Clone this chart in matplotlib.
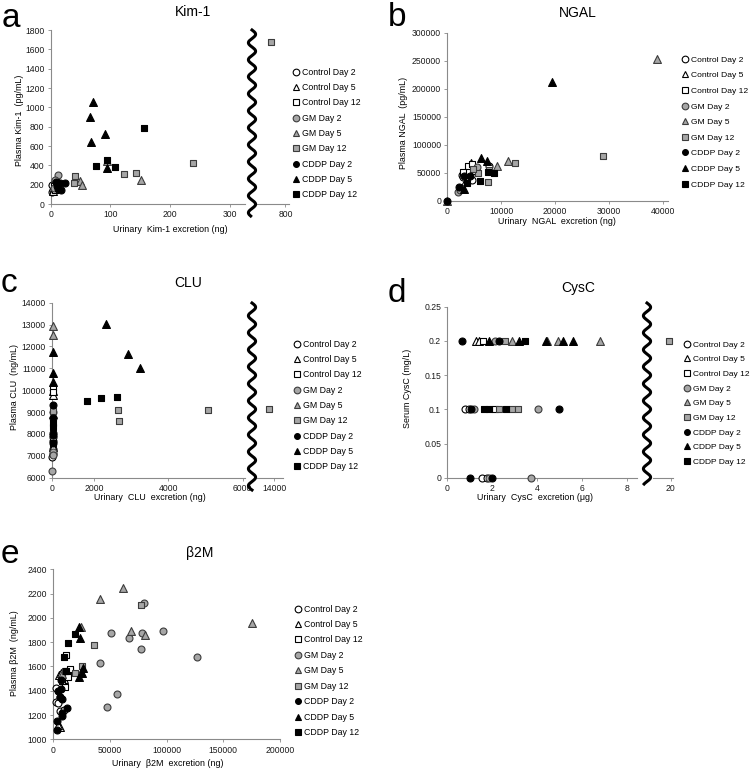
import numpy as np
import matplotlib
matplotlib.use("Agg")
import matplotlib.pyplot as plt
from matplotlib.lines import Line2D

plt.rcParams["font.family"] = ["Liberation Sans", "DejaVu Sans"]

# ---- series (same order in every panel) ----
series_names = ["Control Day 2", "Control Day 5", "Control Day 12",
                "GM Day 2", "GM Day 5", "GM Day 12",
                "CDDP Day 2", "CDDP Day 5", "CDDP Day 12"]

# ---- a: Kim-1 ----
kim_x = [[2, 4, 6, 3], [5, 8, 4], [6, 9, 7],
         [12, 8, 10, 6], [49, 52, 151, 95], [41, 39, 123, 142, 238, 760],
         [15, 24, 18, 11, 9, 12], [71, 65, 67, 90, 94], [156, 75, 94, 108]]
kim_y = [[120, 150, 175, 200], [160, 215, 135], [185, 240, 150],
         [300, 245, 205, 170], [238, 200, 248, 440], [290, 214, 307, 317, 421, 1680],
         [214, 214, 145, 190, 230, 160], [1058, 897, 638, 724, 369], [789, 396, 455, 386]]

# ---- b: NGAL ----
ngal_x = [[2800, 7800, 4500, 3000], [4400, 3200, 5200], [3800, 4500, 3000],
          [1930, 2600, 5500, 2400], [0, 39000, 11200, 9300], [12500, 29000, 7800, 7600, 5750, 4800],
          [0, 2200, 3150, 4200], [19500, 6250, 7300, 3100], [8700, 7600, 6060, 3600]]
ngal_y = [[47000, 62000, 38000, 42000], [68000, 34000, 55000], [62500, 66000, 52000],
          [16600, 24000, 60000, 20000], [0, 253000, 72000, 62500], [67000, 81000, 55000, 34500, 49500, 57000],
          [0, 25000, 44600, 44600], [212000, 76000, 72000, 21000], [49500, 51000, 36000, 31600]]

# ---- c: CLU ----
clu_x = [[20, 30, 40, 25, 35], [30, 25, 40], [35, 30, 25],
         [20, 30, 25, 40], [30, 35, 40], [2650, 2680, 5070, 13400, 40],
         [30, 40, 35, 25, 30], [2320, 2920, 3240, 30, 35, 40], [1680, 2180, 2630, 40, 30]]
clu_y = [[6960, 7100, 7300, 7700, 7850], [9780, 9950, 7400], [10160, 9900, 7600],
         [6300, 7190, 7050, 9000], [12950, 12520, 8900], [9095, 8600, 9095, 9140, 9050],
         [9320, 8720, 8030, 7570, 7950], [13010, 11640, 11000, 11760, 10770, 10390], [9506, 9657, 9690, 8490, 8330]]

# ---- d: CysC ----
cys_x = [[0.79, 0.98, 1.56, 1.79], [1.28, 1.43], [1.61, 2.13],
         [2.13, 1.2, 4.06, 1.86, 3.74], [2.87, 4.45, 4.96, 6.82], [2.58, 19.6, 2.32, 2.87, 3.17],
         [0.64, 2.32, 1.06, 5.0, 1.01, 2.01], [1.88, 3.21, 4.41, 5.15, 5.6], [3.47, 1.64, 1.88, 2.62]]
cys_y = [[0.1, 0.1, 0, 0], [0.2, 0.2], [0.2, 0.1],
         [0.2, 0.1, 0.1, 0, 0], [0.2, 0.2, 0.2, 0.2], [0.2, 0.2, 0.1, 0.1, 0.1],
         [0.2, 0.2, 0.1, 0.1, 0, 0], [0.2, 0.2, 0.2, 0.2, 0.2], [0.2, 0.1, 0.1, 0.1]]

# ---- e: beta2M ----
b2m_x = [[2400, 2800, 4300, 5500, 6000, 9000], [5000, 7000, 9000, 6300, 4300],
         [11500, 14400, 13000, 10000, 15000, 8000],
         [79800, 50600, 66800, 78300, 77100, 41500, 56200, 47700, 97000, 126500],
         [41500, 61500, 24200, 68800, 80700, 175100, 8000], [77000, 36000, 19400, 25600, 10500],
         [6500, 7100, 4100, 5600, 11800, 7400, 7600, 3000, 3000, 8000],
         [22400, 23300, 22400, 26200, 25600], [18900, 13000, 9400, 11500]]
b2m_y = [[1420, 1310, 1300, 1350, 1230, 1240], [1530, 1550, 1500, 1104, 1115],
         [1694, 1571, 1516, 1428, 1580, 1480],
         [2125, 1873, 1832, 1873, 1741, 1626, 1373, 1268, 1890, 1680],
         [2155, 2243, 1927, 1894, 1859, 1960, 1540], [2110, 1777, 1549, 1606, 1560],
         [1490, 1415, 1395, 1345, 1255, 1214, 1192, 1150, 1077, 1330],
         [1927, 1832, 1516, 1585, 1543], [1867, 1790, 1675, 1565]]

# ---- ticks ----
kim_xticks = [0, 100, 200, 300]
kim_yticks = [0, 200, 400, 600, 800, 1000, 1200, 1400, 1600, 1800]
ngal_xticks = [0, 10000, 20000, 30000, 40000]
ngal_yticks = [0, 50000, 100000, 150000, 200000, 250000, 300000]
clu_xticks = [0, 2000, 4000, 6000]
clu_yticks = [6000, 7000, 8000, 9000, 10000, 11000, 12000, 13000, 14000]
cys_xticks = [0, 2, 4, 6, 8]
cys_yticks = [0, 0.05, 0.1, 0.15, 0.2, 0.25]
cys_ylabels = ["0", "0.05", "0.1", "0.15", "0.2", "0.25"]
b2m_xticks = [0, 50000, 100000, 150000, 200000]
b2m_yticks = [1000, 1200, 1400, 1600, 1800, 2000, 2200, 2400]

# ---- look ----
W, H = 751, 769
AX_GRAY = "#8a8a8a"
faces = ["white"] * 3 + ["#a6a6a6"] * 3 + ["black"] * 3
edges = ["black"] * 3 + ["#3c3c3c"] * 3 + ["black"] * 3
markers = ["o", "^", "s"] * 3
sizes = [25, 32, 25] * 3


def rect(l, t, r, b):
    return [l / W, 1 - b / H, (r - l) / W, (b - t) / H]


def fx(x):
    return x / W


def fy(y):
    return 1 - y / H


def style(ax, yaxis=True):
    for s in ["top", "right"]:
        ax.spines[s].set_visible(False)
    for s in ["left", "bottom"]:
        ax.spines[s].set_color(AX_GRAY)
        ax.spines[s].set_linewidth(0.8)
    ax.tick_params(labelsize=6.2, length=2.5, width=0.6, color=AX_GRAY,
                   pad=2, labelcolor="#1a1a1a")
    if not yaxis:
        ax.spines["left"].set_visible(False)
        ax.tick_params(axis="y", left=False, labelleft=False)


def scatter(ax, xs, ys):
    lo, hi = ax.get_xlim()
    for i, (x, y) in enumerate(zip(xs, ys)):
        x = np.asarray(x, float)
        y = np.asarray(y, float)
        keep = (x >= lo) & (x <= hi)
        ax.scatter(x[keep], y[keep], marker=markers[i], s=sizes[i],
                   facecolor=faces[i], edgecolor=edges[i], linewidths=0.8,
                   zorder=3, clip_on=False)


def wave(fig, x0, top, bot):
    ys = np.linspace(top, bot, 500)
    xs = x0 + 3.6 * np.sin(2 * np.pi * (ys - top) / 17.0)
    fig.add_artist(Line2D(fx(xs), fy(ys), color="black", lw=2.2,
                          transform=fig.transFigure))


def legend(fig, mx, y0, spacing, fs=6.3):
    handles = [Line2D([], [], ls="none", marker=markers[i],
                      markersize=4.8 if i < 6 else 4.2,
                      markerfacecolor=faces[i], markeredgecolor=edges[i],
                      markeredgewidth=0.8) for i in range(9)]
    fs_px = fs * 100 / 72
    ls = (spacing - fs_px * 0.98) / fs_px
    fig.legend(handles, series_names, loc="upper left",
               bbox_to_anchor=(fx(mx - 0.35 * fs_px - 1.5), fy(y0 - 0.5 * fs_px)),
               frameon=False, fontsize=fs, handlelength=0.7, handletextpad=0.4,
               borderpad=0, borderaxespad=0, labelspacing=ls)


def label(fig, x, y, s, **kw):
    fig.text(fx(x), fy(y), s, ha="center", va="center", **kw)


fig = plt.figure(figsize=(W / 100, H / 100), dpi=100)

# ---------- a ----------
axl = fig.add_axes(rect(50.7, 30, 245, 204))
axl.set_xlim(0, 325)
axl.set_ylim(0, 1800)
axl.set_xticks(kim_xticks)
axl.set_yticks(kim_yticks)
style(axl)
scatter(axl, kim_x, kim_y)
axr = fig.add_axes(rect(257, 30, 289, 204), sharey=axl)
axr.set_xlim(720, 810)
axr.set_xticks([800])
style(axr, yaxis=False)
scatter(axr, kim_x, kim_y)
wave(fig, 252, 30, 216)
legend(fig, 297, 72, 14.9)
label(fig, 193, 12, "Kim-1", fontsize=10)
label(fig, 20, 120, "Plasma Kim-1  (pg/mL)", fontsize=6.4, rotation=90)
label(fig, 170, 229, "Urinary  Kim-1 excretion (ng)", fontsize=6.4)
fig.text(fx(2), fy(27), "a", fontsize=24)

# ---------- b ----------
ax = fig.add_axes(rect(447.3, 33, 668, 201))
ax.set_xlim(0, 41000)
ax.set_ylim(0, 300000)
ax.set_xticks(ngal_xticks)
ax.set_yticks(ngal_yticks)
style(ax)
scatter(ax, ngal_x, ngal_y)
legend(fig, 686, 60, 16, fs=6.1)
label(fig, 578, 13, "NGAL", fontsize=10)
label(fig, 404, 123, "Plasma NGAL  (pg/mL)", fontsize=6.4, rotation=90)
label(fig, 557, 221, "Urinary  NGAL  excretion (ng)", fontsize=6.4)
fig.text(fx(388), fy(26), "b", fontsize=24)

# ---------- c ----------
K = 42 / 74.4  # first interval of the CLU axis is drawn compressed


def clu_fwd(x):
    x = np.asarray(x, float)
    return np.where(x < 2000, x * K, 2000 * K + (x - 2000))


def clu_inv(u):
    u = np.asarray(u, float)
    return np.where(u < 2000 * K, u / K, u - 2000 * K + 2000)


axl = fig.add_axes(rect(52, 302.7, 245, 477.7))
axl.set_xscale("function", functions=(clu_fwd, clu_inv))
axl.set_xlim(0, 6060)
axl.set_ylim(6000, 14000)
axl.set_xticks(clu_xticks, labels=[str(t) for t in clu_xticks])
axl.xaxis.set_minor_locator(matplotlib.ticker.NullLocator())
axl.set_yticks(clu_yticks)
style(axl)
scatter(axl, clu_x, clu_y)
axr = fig.add_axes(rect(257, 302.7, 283, 477.7), sharey=axl)
axr.set_xlim(12000, 15000)
axr.set_xticks([14000])
style(axr, yaxis=False)
scatter(axr, clu_x, clu_y)
wave(fig, 252, 303, 490)
legend(fig, 298, 344, 14.9)
label(fig, 188, 283, "CLU", fontsize=10)
label(fig, 15, 387, "Plasma CLU  (ng/mL)", fontsize=6.4, rotation=90)
label(fig, 150, 497, "Urinary  CLU  excretion (ng)", fontsize=6.4)
fig.text(fx(1), fy(292), "c", fontsize=24)

# ---------- d ----------
axl = fig.add_axes(rect(447.3, 306.7, 636.7, 477.7))
axl.set_xlim(0, 8.45)
axl.set_ylim(0, 0.25)
axl.set_xticks(cys_xticks)
axl.set_yticks(cys_yticks, labels=cys_ylabels)
style(axl)
scatter(axl, cys_x, cys_y)
axr = fig.add_axes(rect(653, 306.7, 672.7, 477.7), sharey=axl)
axr.set_xlim(17, 20.3)
axr.set_xticks([20])
style(axr, yaxis=False)
scatter(axr, cys_x, cys_y)
wave(fig, 647, 303, 484)
legend(fig, 688, 345, 15, fs=6.0)
label(fig, 578, 288, "CysC", fontsize=10)
label(fig, 407, 388, "Serum CysC (mg/L)", fontsize=6.4, rotation=90)
label(fig, 535, 497, "Urinary  CysC  excretion (\u03bcg)", fontsize=6.4)
fig.text(fx(388), fy(302), "d", fontsize=24)

# ---------- e ----------
ax = fig.add_axes(rect(53.3, 569.3, 280, 739.3))
ax.set_xlim(0, 200000)
ax.set_ylim(1000, 2400)
ax.set_xticks(b2m_xticks)
ax.set_yticks(b2m_yticks)
style(ax)
scatter(ax, b2m_x, b2m_y)
legend(fig, 299, 609, 15)
label(fig, 200, 553, "\u03b22M", fontsize=10)
label(fig, 15, 653, "Plasma \u03b22M  (ng/mL)", fontsize=6.4, rotation=90)
label(fig, 168, 763, "Urinary  \u03b22M  excretion (ng)", fontsize=6.4)
fig.text(fx(1), fy(563), "e", fontsize=24)

fig.savefig("out.png", dpi=100)
